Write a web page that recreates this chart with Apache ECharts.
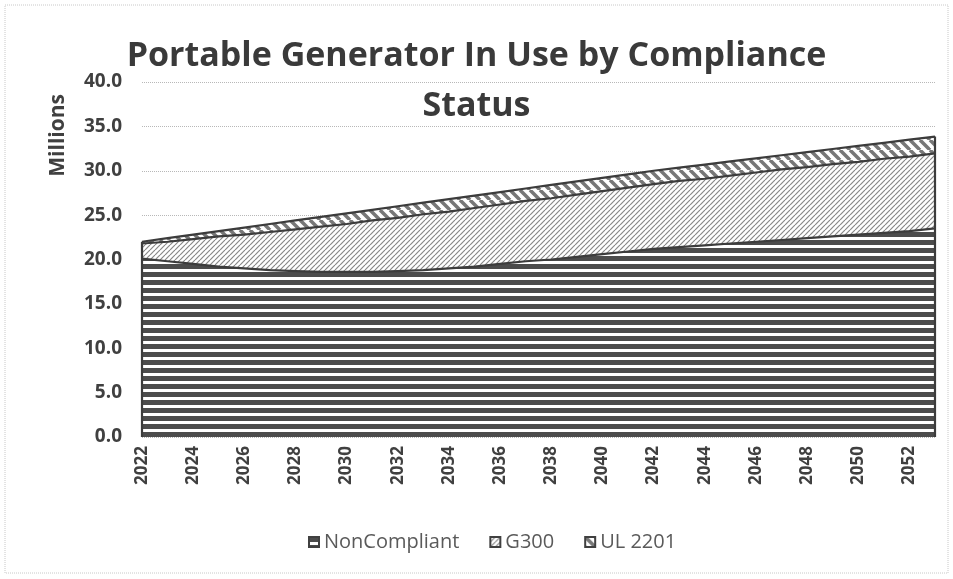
<!DOCTYPE html>
<html>
<head>
<meta charset="utf-8">
<script src="https://cdn.jsdelivr.net/npm/echarts@6/dist/echarts.min.js"></script>
<style>html,body{margin:0;padding:0;background:#fff}#c{width:953px;height:579px}</style>
</head>
<body>
<div id="c"></div>
<script>
var years = ['2022','2023','2024','2025','2026','2027','2028','2029','2030','2031','2032','2033','2034','2035','2036','2037','2038','2039','2040','2041','2042','2043','2044','2045','2046','2047','2048','2049','2050','2051','2052','2053'];
var nonCompliant = [20.1,19.8,19.5,19.2,19.0,18.8,18.7,18.6,18.6,18.6,18.7,18.8,19.0,19.2,19.5,19.8,20.0,20.3,20.6,20.9,21.2,21.4,21.6,21.8,22.0,22.2,22.4,22.6,22.8,23.0,23.2,23.5];
var g300 = [1.7,2.2,2.8,3.4,3.8,4.3,4.7,5.1,5.4,5.8,6.0,6.3,6.4,6.6,6.7,6.8,6.9,7.0,7.1,7.2,7.3,7.45,7.5,7.65,7.8,7.95,8.0,8.15,8.2,8.35,8.4,8.45];
var ul2201 = [0.2,0.4,0.5,0.6,0.8,0.9,1.0,1.1,1.2,1.2,1.3,1.3,1.4,1.4,1.4,1.4,1.5,1.5,1.5,1.5,1.5,1.5,1.6,1.6,1.6,1.6,1.7,1.7,1.8,1.8,1.9,1.9];
var seriesNames = ['NonCompliant','G300','UL 2201'];
var yTicks = [0,5,10,15,20,25,30,35,40];

function pat(kind){
  var c=document.createElement('canvas');
  var x;
  if(kind==='h'){
    c.width=8;c.height=8;x=c.getContext('2d');
    x.fillStyle='#fff';x.fillRect(0,0,8,8);
    x.fillStyle='#4c4c4c';x.fillRect(0,0,8,5);
  } else if(kind==='fine'){
    var s=5;c.width=s;c.height=s;x=c.getContext('2d');
    x.fillStyle='#fff';x.fillRect(0,0,s,s);
    x.strokeStyle='#888';x.lineWidth=1.2;
    for(var k=-1;k<=1;k++){x.beginPath();x.moveTo(k*s,s);x.lineTo(k*s+s,0);x.stroke();}
  } else {
    var s=10;c.width=s;c.height=s;x=c.getContext('2d');
    x.fillStyle='#fff';x.fillRect(0,0,s,s);
    x.strokeStyle='#777';x.lineWidth=3.5;
    for(var k=-1;k<=1;k++){x.beginPath();x.moveTo(k*s,0);x.lineTo(k*s+s,s);x.stroke();}
  }
  return {image:c,repeat:'repeat'};
}
var fills=[pat('h'),pat('fine'),pat('d')];
var vals=[nonCompliant,g300,ul2201];

var chart=echarts.init(document.getElementById('c'),null,{renderer:'canvas'});
var series=seriesNames.map(function(n,i){
  return {
    name:n,type:'line',stack:'total',data:vals[i],showSymbol:false,symbol:'none',
    lineStyle:{color:'#3c3c3c',width:2.2},
    areaStyle:{color:fills[i],opacity:1},
    itemStyle:{color:fills[i],borderColor:'#404040',borderWidth:1},
    z:3-i
  };
});
var totals=years.map(function(y,i){return nonCompliant[i]+g300[i]+ul2201[i];});
series.push({
  type:'line',data:[],silent:true,
  markLine:{symbol:'none',silent:true,label:{show:false},lineStyle:{color:'#3c3c3c',width:2.2,type:'solid'},
    data:[[{coord:[years[0],0]},{coord:[years[0],totals[0]]}],
          [{coord:[years[years.length-1],0]},{coord:[years[years.length-1],totals[totals.length-1]]}]]}
});

chart.setOption({
  animation:false,
  backgroundColor:'#fff',
  title:{text:'Portable Generator In Use by Compliance\nStatus',left:'center',top:26,
    textStyle:{fontFamily:'Open Sans',fontWeight:'bold',fontSize:34,color:'#3a3a3a',lineHeight:50}},
  grid:{left:142,right:18,top:82,bottom:142},
  legend:{data:seriesNames,left:303,top:527,itemWidth:10,itemHeight:10,itemGap:30,icon:'rect',
    textStyle:{fontFamily:'Open Sans',fontSize:20,color:'#5a5a5a'}},
  xAxis:{type:'category',data:years,boundaryGap:false,
    axisLine:{show:false},axisTick:{show:false},
    axisLabel:{rotate:90,interval:1,margin:9,fontFamily:'Open Sans',fontWeight:'bold',fontSize:17,color:'#404040'},
    splitLine:{show:false}},
  yAxis:{type:'value',min:yTicks[0],max:yTicks[yTicks.length-1],interval:5,
    axisLine:{show:false},axisTick:{show:false},
    axisLabel:{margin:20,fontFamily:'Open Sans',fontWeight:'bold',fontSize:19,color:'#404040',formatter:function(v){return v.toFixed(1);}},
    splitLine:{lineStyle:{color:'#b8b8b8',type:[1,1],width:1}}},
  graphic:[
    {type:'text',left:48,top:94,rotation:Math.PI/2,style:{text:'Millions',font:'bold 21px "Open Sans"',fill:'#404040'}},
    {type:'rect',shape:{x:5,y:5,width:943,height:568},style:{fill:null,stroke:'#c8c8c8',lineWidth:1,lineDash:[1,1]},silent:true}
  ],
  series:series
});
</script>
</body>
</html>
